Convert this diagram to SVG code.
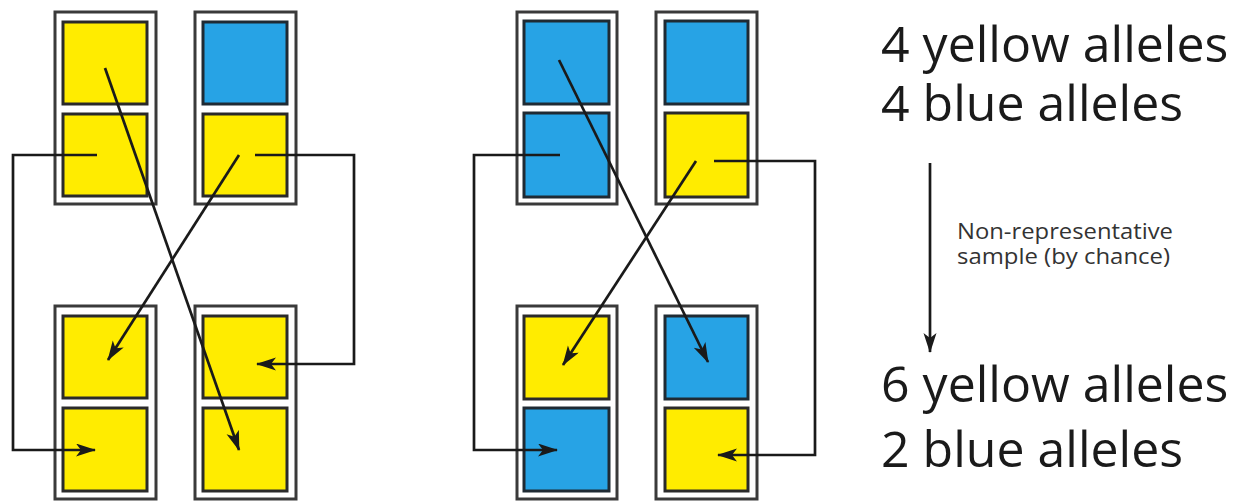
<svg xmlns="http://www.w3.org/2000/svg" width="1244" height="502" viewBox="0 0 1244 502">
<style>
.outer{fill:#fff;stroke:#3a3a3a;stroke-width:3}
.y{fill:#FFEC00;stroke:#2a2a2a;stroke-width:3}
.b{fill:#27A3E5;stroke:#1f2a33;stroke-width:3}
.c{fill:none;stroke:#1a1a1a;stroke-width:2.7;marker-end:url(#ah)}
.big{font-family:"Open Sans",sans-serif;font-size:50px;fill:#1a1a1a}
.small{font-family:"Open Sans",sans-serif;font-size:21px;fill:#333}
</style>
<defs>
<marker id="ah" markerUnits="userSpaceOnUse" markerWidth="22" markerHeight="14" refX="19" refY="6.5" orient="auto">
<path d="M0,0 L20,6.5 L0,13 L5,6.5 z" fill="#1a1a1a"/>
</marker>
</defs>
<rect width="1244" height="502" fill="#fff"/>
<g id="p1-top-left"><rect class="outer" x="55" y="12" width="101" height="192"/><rect class="y" x="63" y="22" width="84" height="82"/><rect class="y" x="63" y="114" width="84" height="82"/></g>
<g id="p1-top-right"><rect class="outer" x="195" y="12" width="101" height="192"/><rect class="b" x="203" y="22" width="84" height="82"/><rect class="y" x="203" y="114" width="84" height="82"/></g>
<g id="p1-bot-left"><rect class="outer" x="55" y="306" width="101" height="193"/><rect class="y" x="63" y="316" width="84" height="82"/><rect class="y" x="63" y="408" width="84" height="83"/></g>
<g id="p1-bot-right"><rect class="outer" x="195" y="306" width="101" height="193"/><rect class="y" x="203" y="316" width="84" height="82"/><rect class="y" x="203" y="408" width="84" height="83"/></g>
<g id="p2-top-left"><rect class="outer" x="517" y="12" width="100" height="192"/><rect class="b" x="524" y="21" width="85" height="83"/><rect class="b" x="524" y="113" width="85" height="84"/></g>
<g id="p2-top-right"><rect class="outer" x="656" y="12" width="101" height="192"/><rect class="b" x="665" y="21" width="83" height="83"/><rect class="y" x="665" y="113" width="83" height="84"/></g>
<g id="p2-bot-left"><rect class="outer" x="517" y="306" width="100" height="193"/><rect class="y" x="524" y="316" width="85" height="83"/><rect class="b" x="524" y="408" width="85" height="83"/></g>
<g id="p2-bot-right"><rect class="outer" x="656" y="306" width="101" height="193"/><rect class="b" x="665" y="316" width="83" height="83"/><rect class="y" x="665" y="408" width="83" height="83"/></g>
<g id="connectors">
<path class="c" d="M105,68 L239,450"/>
<path class="c" d="M239,155 L108,360"/>
<path class="c" d="M97,155 H13 V450 H95"/>
<path class="c" d="M255,155 H354 V364 H257"/>
<path class="c" d="M559,60 L708,362"/>
<path class="c" d="M696,161 L563,365"/>
<path class="c" d="M560,155 H474 V450 H557"/>
<path class="c" d="M714,161 H815 V455 H718"/>
<path class="c" d="M930,163 V352"/>
</g>
<g id="labels">
<text class="big" x="881" y="62">4 yellow alleles</text>
<text class="big" x="881" y="121">4 blue alleles</text>
<text class="big" x="881" y="402">6 yellow alleles</text>
<text class="big" x="881" y="467">2 blue alleles</text>
<text class="small" x="957" y="239" textLength="216" lengthAdjust="spacingAndGlyphs">Non-representative</text>
<text class="small" x="957" y="264" textLength="213" lengthAdjust="spacingAndGlyphs">sample (by chance)</text>
</g>
</svg>
